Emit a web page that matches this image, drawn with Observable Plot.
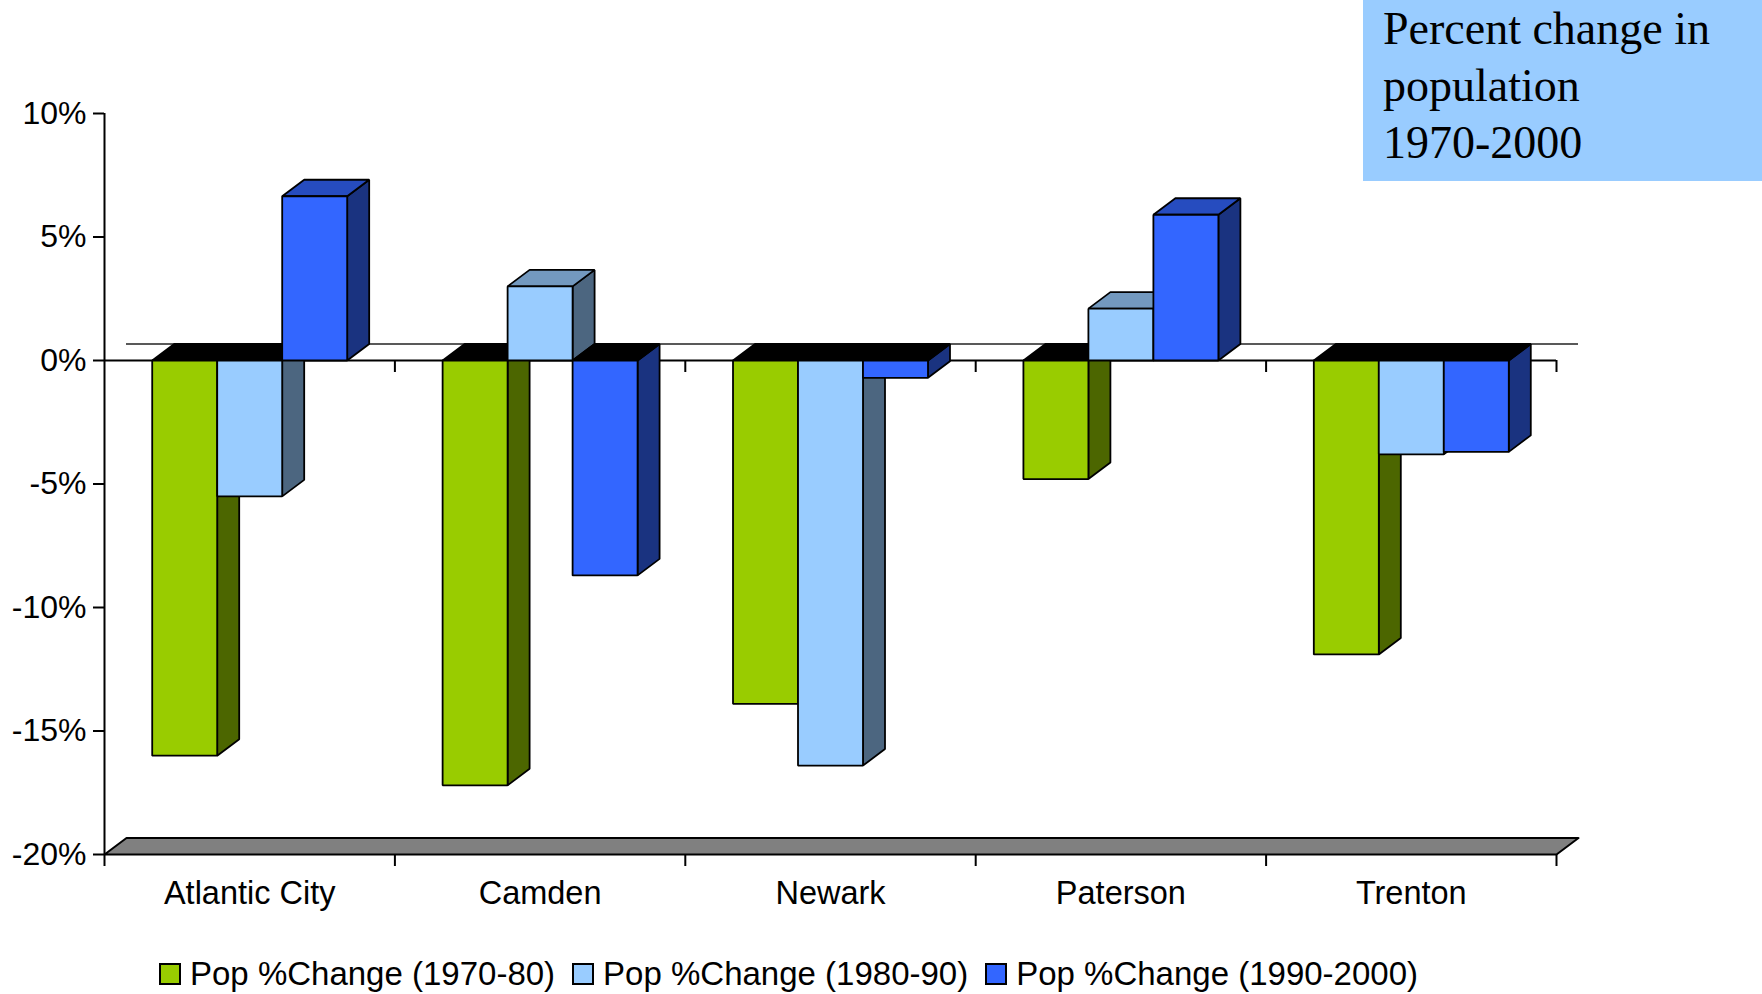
<!DOCTYPE html>
<html>
<head>
<meta charset="utf-8">
<script src="https://cdn.jsdelivr.net/npm/d3@7"></script>
<script src="https://cdn.jsdelivr.net/npm/@observablehq/plot@0.6"></script>
<style>
html, body { margin: 0; padding: 0; background: #fff; }
#wrap { position: relative; width: 1762px; height: 994px; overflow: hidden; background: #fff; }
#chart { position: absolute; left: 0; top: 0; }
#title { position: absolute; left: 1363px; top: 0; width: 399px; height: 181px; background: #99CCFF;
  font-family: "Liberation Serif", "Times New Roman", serif; font-size: 46px; line-height: 57px; color: #000;
  padding-left: 20px; box-sizing: border-box; }
#legend { position: absolute; left: 160px; top: 955px; width: 1500px; }
.leg-swatches { font-family: "Liberation Sans", Arial, sans-serif !important; font-size: 33px !important; color: #000 !important; margin: 0 !important; }
.leg-swatch { margin-right: 18px !important; }
.leg-swatch > svg { margin-right: 10px !important; overflow: visible !important; }
.leg-swatch svg rect { stroke: #000; stroke-width: 2px; }
</style>
</head>
<body>
<div id="wrap">
  <div id="chart"></div>
  <div id="title">Percent change in<br>population<br>1970-2000</div>
  <div id="legend"></div>
</div>
<script>
// ---- data ----
const cities = ["Atlantic City", "Camden", "Newark", "Paterson", "Trenton"];
const series = ["Pop %Change (1970-80)", "Pop %Change (1980-90)", "Pop %Change (1990-2000)"];
const change1970_80 = [-16.0, -17.2, -13.9, -4.8, -11.9];
const change1980_90 = [-5.5, 3.0, -16.4, 2.1, -3.8];
const change1990_2000 = [6.65, -8.7, -0.7, 5.9, -3.7];
const yTicks = [-20, -15, -10, -5, 0, 5, 10];

// ---- styles ----
const frontColors = ["#99CC00", "#99CCFF", "#3366FF"];
const sideColors = ["#4C6600", "#4C6680", "#1A3380"];
const topColors = ["#739900", "#7399BF", "#264CBF"];

const W = 1762, H = 935, mL = 104, mR = 206, mT = 113, mB = 81;
const n = cities.length;
const yMin = d3.min(yTicks), yMax = d3.max(yTicks);
const pxX = (W - mL - mR) / n;
const pxY = (H - mT - mB) / (yMax - yMin);
const DX = 22 / pxX, DY = 16.5 / pxY;      // 3D depth, in data units
const groupW = 0.6714, bw = groupW / series.length, off = (1 - groupW) / 2;

const values = [change1970_80, change1980_90, change1990_2000];
const faces = [];
let pid = 0;
function poly(pts, fill) { pid++; for (const [x, y] of pts) faces.push({id: pid, x, y, fill}); }
cities.forEach((c, i) => {
  values.forEach((arr, s) => {
    const v = arr[i];
    const x0 = i + off + s * bw, x1 = x0 + bw;
    poly([[x1, 0], [x1 + DX, DY], [x1 + DX, v + DY], [x1, v]], sideColors[s]);
    const t = v >= 0 ? v : 0;
    poly([[x0, t], [x1, t], [x1 + DX, t + DY], [x0 + DX, t + DY]], v >= 0 ? topColors[s] : "#000000");
    poly([[x0, 0], [x1, 0], [x1, v], [x0, v]], frontColors[s]);
  });
});
const floor = [[0, yMin], [n, yMin], [n + DX, yMin + DY], [DX, yMin + DY]].map(([x, y]) => ({x, y}));

const chart = Plot.plot({
  width: W, height: H,
  marginLeft: mL, marginRight: mR, marginTop: mT, marginBottom: mB,
  x: {domain: [0, n], axis: null},
  y: {domain: [yMin, yMax], axis: null},
  color: {type: "identity"},
  style: {fontFamily: "'Liberation Sans', Arial, sans-serif", fontSize: "32px", color: "#000", background: "#fff", overflow: "visible"},
  marks: [
    Plot.line(floor, {x: "x", y: "y", fill: "#808080", stroke: "#000", strokeWidth: 2, curve: "linear-closed"}),
    Plot.ruleY([DY], {x1: DX, x2: n + DX, stroke: "#222", strokeWidth: 1.5}),
    Plot.ruleX([0], {y1: yMin, y2: yMax, stroke: "#000", strokeWidth: 2}),
    Plot.axisY({ticks: yTicks, tickSize: 11, tickPadding: 7, tickFormat: d => `${d}%`, label: null, strokeWidth: 2, fontSize: 32}),
    Plot.ruleX(d3.range(0, n + 1), {y1: yMin, y2: yMin - 12 / pxY, stroke: "#000", strokeWidth: 2}),
    Plot.axisX({ticks: cities.map((c, i) => i + 0.5), tickSize: 0, tickPadding: 26, tickFormat: d => cities[Math.floor(d)], label: null, fontSize: 32.5}),
    Plot.ruleY([0], {x1: 0, x2: n, stroke: "#000", strokeWidth: 2}),
    Plot.ruleX(d3.range(1, n + 1), {y1: 0, y2: -12 / pxY, stroke: "#000", strokeWidth: 2}),
    Plot.line(faces, {x: "x", y: "y", z: "id", fill: "fill", stroke: "#000", strokeWidth: 1.8, strokeLinejoin: "miter", curve: "linear-closed"})
  ]
});
document.getElementById("chart").appendChild(chart);

const legend = Plot.legend({
  color: {type: "ordinal", domain: series, range: frontColors},
  legend: "swatches",
  swatchSize: 20,
  className: "leg"
});
document.getElementById("legend").appendChild(legend);
</script>
</body>
</html>
